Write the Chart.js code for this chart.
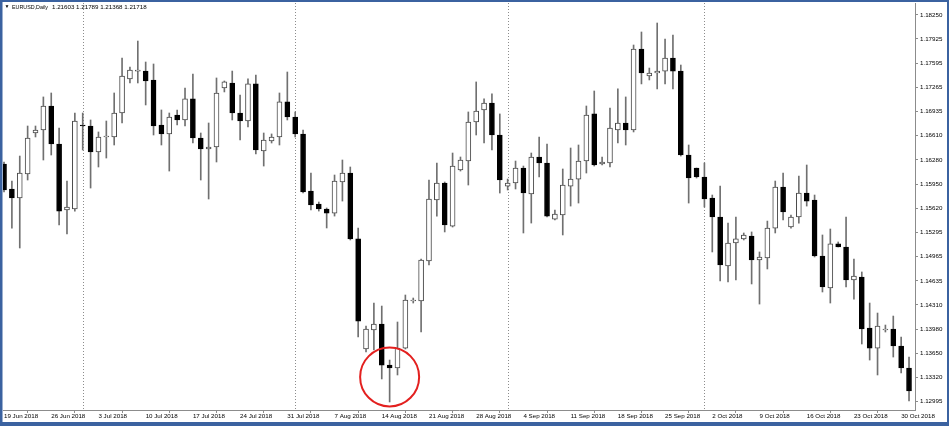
<!DOCTYPE html>
<html>
<head>
<meta charset="utf-8">
<title>EURUSD Daily</title>
<script src="https://cdn.jsdelivr.net/npm/chart.js@4.4.1/dist/chart.umd.min.js"></script>
<style>
  html, body { margin: 0; padding: 0; background: #fff; }
  #wrap { width: 949px; height: 426px; }
</style>
</head>
<body>
<div id="wrap"><canvas id="chart" width="949" height="426"></canvas></div>
<script>
// EURUSD daily, 19 Jun - 31 Oct 2018 (the feed has Sunday bars, 6 bars a week)
const dates = [
  '19 Jun 2018','20 Jun 2018','21 Jun 2018','22 Jun 2018',
  '24 Jun 2018','25 Jun 2018','26 Jun 2018','27 Jun 2018','28 Jun 2018','29 Jun 2018',
  '1 Jul 2018','2 Jul 2018','3 Jul 2018','4 Jul 2018','5 Jul 2018','6 Jul 2018',
  '8 Jul 2018','9 Jul 2018','10 Jul 2018','11 Jul 2018','12 Jul 2018','13 Jul 2018',
  '15 Jul 2018','16 Jul 2018','17 Jul 2018','18 Jul 2018','19 Jul 2018','20 Jul 2018',
  '22 Jul 2018','23 Jul 2018','24 Jul 2018','25 Jul 2018','26 Jul 2018','27 Jul 2018',
  '29 Jul 2018','30 Jul 2018','31 Jul 2018','1 Aug 2018','2 Aug 2018','3 Aug 2018',
  '5 Aug 2018','6 Aug 2018','7 Aug 2018','8 Aug 2018','9 Aug 2018','10 Aug 2018',
  '12 Aug 2018','13 Aug 2018','14 Aug 2018','15 Aug 2018','16 Aug 2018','17 Aug 2018',
  '19 Aug 2018','20 Aug 2018','21 Aug 2018','22 Aug 2018','23 Aug 2018','24 Aug 2018',
  '26 Aug 2018','27 Aug 2018','28 Aug 2018','29 Aug 2018','30 Aug 2018','31 Aug 2018',
  '2 Sep 2018','3 Sep 2018','4 Sep 2018','5 Sep 2018','6 Sep 2018','7 Sep 2018',
  '9 Sep 2018','10 Sep 2018','11 Sep 2018','12 Sep 2018','13 Sep 2018','14 Sep 2018',
  '16 Sep 2018','17 Sep 2018','18 Sep 2018','19 Sep 2018','20 Sep 2018','21 Sep 2018',
  '23 Sep 2018','24 Sep 2018','25 Sep 2018','26 Sep 2018','27 Sep 2018','28 Sep 2018',
  '30 Sep 2018','1 Oct 2018','2 Oct 2018','3 Oct 2018','4 Oct 2018','5 Oct 2018',
  '7 Oct 2018','8 Oct 2018','9 Oct 2018','10 Oct 2018','11 Oct 2018','12 Oct 2018',
  '14 Oct 2018','15 Oct 2018','16 Oct 2018','17 Oct 2018','18 Oct 2018','19 Oct 2018',
  '21 Oct 2018','22 Oct 2018','23 Oct 2018','24 Oct 2018','25 Oct 2018','26 Oct 2018',
  '28 Oct 2018','29 Oct 2018','30 Oct 2018','31 Oct 2018'
];

const opens = [
  1.16225,1.15885,1.15762,1.16089,1.16646,1.16687,1.17013,1.16497,1.15599,1.15613,
  1.16755,1.16741,1.16388,1.16592,1.16592,1.16918,1.17381,1.17488,1.17488,1.17367,
  1.16755,1.16633,1.16891,1.16823,1.17109,1.16578,1.16429,1.16456,1.17258,1.17326,
  1.16918,1.16809,1.17313,1.16401,1.16537,1.16592,1.17068,1.16864,1.16633,1.15858,
  1.15681,1.15613,1.15558,1.15980,1.16102,1.15206,1.13710,1.13968,1.14050,1.13492,
  1.13452,1.13723,1.14362,1.14362,1.14906,1.15735,1.15966,1.15381,1.16143,1.16265,
  1.16796,1.16959,1.17054,1.16619,1.15925,1.15966,1.16170,1.15817,1.16320,1.16238,
  1.15476,1.15531,1.15925,1.16020,1.16265,1.16905,1.16225,1.16238,1.16687,1.16782,
  1.16687,1.17788,1.17421,1.17461,1.17488,1.17665,1.17488,1.16347,1.16170,1.16048,
  1.15762,1.15504,1.14838,1.15151,1.15206,1.15246,1.14920,1.14947,1.15354,1.15912,
  1.15368,1.15504,1.15830,1.15735,1.14974,1.14539,1.15138,1.15097,1.14648,1.14689,
  1.13995,1.13723,1.13968,1.13982,1.13751,1.13452
];

const highs = [
  1.16252,1.15993,1.16333,1.16741,1.16741,1.17136,1.17190,1.16714,1.15993,1.16918,
  1.16918,1.16823,1.16660,1.16809,1.17190,1.17665,1.17543,1.17896,1.17611,1.17584,
  1.16959,1.16918,1.16959,1.17258,1.17448,1.16646,1.16782,1.17394,1.17353,1.17488,
  1.17163,1.17381,1.17434,1.16646,1.16633,1.17190,1.17475,1.16932,1.16687,1.16102,
  1.15708,1.15627,1.16075,1.16279,1.16184,1.15354,1.14023,1.14335,1.14294,1.13560,
  1.14077,1.14444,1.14403,1.14934,1.16007,1.16238,1.15980,1.16374,1.16320,1.16932,
  1.17340,1.17109,1.17177,1.16905,1.16020,1.16265,1.16197,1.16374,1.16592,1.16497,
  1.15599,1.16157,1.16442,1.16483,1.17013,1.17217,1.16320,1.16986,1.17245,1.17136,
  1.17842,1.18019,1.17529,1.18141,1.17923,1.17978,1.17570,1.16483,1.16170,1.16238,
  1.15803,1.15925,1.15422,1.15504,1.15287,1.15301,1.15029,1.15449,1.15993,1.16102,
  1.15531,1.16061,1.16211,1.15803,1.15260,1.15341,1.15165,1.15504,1.14934,1.14757,
  1.14335,1.14199,1.14036,1.14158,1.13873,1.13601
];

const lows = [
  1.15844,1.15354,1.15083,1.16007,1.16592,1.16279,1.16347,1.15395,1.15274,1.15585,
  1.16415,1.15898,1.16184,1.16306,1.16483,1.16782,1.17326,1.17326,1.17027,1.16619,
  1.16483,1.16129,1.16755,1.16741,1.16510,1.16007,1.15749,1.16252,1.17204,1.16823,
  1.16551,1.16728,1.16361,1.16197,1.16510,1.16483,1.16823,1.16592,1.15830,1.15599,
  1.15585,1.15355,1.15517,1.15721,1.15192,1.13873,1.13669,1.13696,1.13303,1.12990,
  1.13357,1.13710,1.14335,1.13941,1.14852,1.15517,1.15301,1.15368,1.16129,1.15939,
  1.16619,1.16510,1.16415,1.15830,1.15871,1.15885,1.15287,1.15422,1.16048,1.15504,
  1.15463,1.15260,1.15653,1.15694,1.16102,1.16197,1.16211,1.16184,1.16510,1.16483,
  1.16660,1.17313,1.17367,1.17245,1.17313,1.17245,1.16333,1.15694,1.16034,1.15640,
  1.15029,1.14634,1.14621,1.14648,1.15192,1.14594,1.14321,1.14798,1.15287,1.15463,
  1.15354,1.15422,1.15653,1.14961,1.14485,1.14335,1.15097,1.14553,1.14389,1.13778,
  1.13560,1.13357,1.13941,1.13601,1.13384,1.13003
];

const closes = [
  1.15871,1.15762,1.16102,1.16578,1.16687,1.17013,1.16497,1.15585,1.15640,1.16809,
  1.16741,1.16388,1.16592,1.16605,1.16918,1.17421,1.17502,1.17502,1.17353,1.16741,
  1.16633,1.16864,1.16823,1.17109,1.16578,1.16429,1.16456,1.17190,1.17340,1.16918,
  1.16809,1.17313,1.16415,1.16551,1.16592,1.17068,1.16864,1.16633,1.15844,1.15667,
  1.15613,1.15558,1.15993,1.16102,1.15206,1.14090,1.13982,1.14050,1.13492,1.13452,
  1.13723,1.14376,1.14376,1.14920,1.15749,1.15966,1.15395,1.16197,1.16279,1.16796,
  1.16945,1.17054,1.16619,1.16007,1.15966,1.16170,1.15830,1.16320,1.16238,1.15517,
  1.15545,1.15939,1.16020,1.16265,1.16891,1.16211,1.16252,1.16714,1.16782,1.16687,
  1.17788,1.17461,1.17461,1.17488,1.17665,1.17488,1.16347,1.16034,1.16048,1.15749,
  1.15504,1.14852,1.15151,1.15206,1.15260,1.14920,1.14961,1.15354,1.15912,1.15572,
  1.15504,1.15830,1.15721,1.14974,1.14553,1.15138,1.15097,1.14648,1.14702,1.13982,
  1.13723,1.14023,1.13982,1.13751,1.13452,1.13139
];

// labels shown on the time axis
const tickDates = [
  '19 Jun 2018','26 Jun 2018','3 Jul 2018','10 Jul 2018','17 Jul 2018','24 Jul 2018',
  '31 Jul 2018','7 Aug 2018','14 Aug 2018','21 Aug 2018','28 Aug 2018','4 Sep 2018',
  '11 Sep 2018','18 Sep 2018','25 Sep 2018','2 Oct 2018','9 Oct 2018','16 Oct 2018',
  '23 Oct 2018','30 Oct 2018'
];

// price scale labels (terminal style, uneven steps)
const priceTicks = [
  1.18250, 1.17925, 1.17595, 1.17265, 1.16935, 1.16610, 1.16280, 1.15950, 1.15620,
  1.15295, 1.14965, 1.14635, 1.14310, 1.13980, 1.13650, 1.13320, 1.12995
];

// first bar of each month -> dotted period separators
const monthStarts = ['1 Jul 2018', '1 Aug 2018', '2 Sep 2018', '1 Oct 2018'];

const symbolName = 'EURUSD,Daily';
const lastQuote = '1.21603 1.21789 1.21368 1.21718';
// the 15 Aug low that is circled
const circledDate = '15 Aug 2018';
const circledPrice = 1.13330;

const FONT = '"Liberation Sans", "DejaVu Sans", Arial, sans-serif';

const bodyData = dates.map((d, i) => ({ x: i, y: [opens[i], closes[i]] }));
const wickData = dates.map((d, i) => ({ x: i, y: [lows[i], highs[i]] }));
const isUp = dates.map((d, i) => closes[i] >= opens[i]);

// separators, header text, circle mark and the window frame
const overlay = {
  id: 'overlay',
  beforeDraw(chart) {
    const c = chart.ctx;
    c.save();
    c.fillStyle = '#ffffff';
    c.fillRect(0, 0, chart.width, chart.height);
    c.restore();
  },
  beforeDatasetsDraw(chart) {
    const c = chart.ctx;
    const area = chart.chartArea;
    const xs = chart.scales.x;
    c.save();
    c.strokeStyle = '#8c8c8c';
    c.lineWidth = 1;
    c.setLineDash([1, 2]);
    monthStarts.forEach(d => {
      const px = Math.round(xs.getPixelForValue(dates.indexOf(d))) + 0.5;
      c.beginPath();
      c.moveTo(px, area.top);
      c.lineTo(px, area.bottom);
      c.stroke();
    });
    c.restore();
  },
  afterDraw(chart) {
    const c = chart.ctx;
    const xs = chart.scales.x;
    const ys = chart.scales.y;
    c.save();

    // header
    c.fillStyle = '#000';
    c.textBaseline = 'middle';
    c.font = '5px ' + FONT;
    c.fillText('\u25BC', 4.5, 7);
    c.font = '6.2px ' + FONT;
    c.fillText(symbolName, 12, 7, 36);
    c.fillText(lastQuote, 52, 7, 96);

    // red circle round the low
    c.strokeStyle = '#e3201f';
    c.lineWidth = 2;
    c.beginPath();
    c.arc(xs.getPixelForValue(dates.indexOf(circledDate)), ys.getPixelForValue(circledPrice), 29.5, 0, Math.PI * 2);
    c.stroke();

    // window frame
    c.fillStyle = '#3b62a0';
    c.fillRect(0, 0, chart.width, 2);
    c.fillRect(0, 0, 2.5, chart.height);
    c.fillRect(chart.width - 2, 0, 2, chart.height);
    c.fillRect(0, chart.height - 4, chart.width, 4);
    c.restore();
  }
};

const ctx = document.getElementById('chart').getContext('2d');

const priceChart = new Chart(ctx, {
  type: 'bar',
  data: {
    datasets: [
      {
        label: 'body',
        data: bodyData,
        order: 0,
        grouped: false,
        barThickness: 5,
        minBarLength: 1,
        backgroundColor: isUp.map(u => u ? '#ffffff' : '#000000'),
        borderColor: isUp.map(u => u ? '#4a4a4a' : '#000000'),
        borderWidth: 1,
        borderSkipped: false
      },
      {
        label: 'wick',
        data: wickData,
        order: 1,
        grouped: false,
        barThickness: 1,
        backgroundColor: '#707070',
        borderWidth: 0
      }
    ]
  },
  options: {
    responsive: false,
    animation: false,
    events: [],
    layout: { padding: { left: 3, top: 3, right: 0, bottom: 0 } },
    plugins: {
      legend: { display: false },
      tooltip: { enabled: false }
    },
    scales: {
      x: {
        type: 'linear',
        min: -0.13,
        max: 115.76,
        offset: false,
        afterBuildTicks: s => { s.ticks = tickDates.map(d => ({ value: dates.indexOf(d) })); },
        afterFit: s => {
          s.height = 16;
          s.paddingLeft = 0; s.paddingRight = 0;
        },
        ticks: {
          callback: v => dates[v],
          align: 'start',
          maxRotation: 0,
          autoSkip: false,
          padding: 0,
          color: '#000',
          font: { family: FONT, size: 6.2 }
        },
        grid: { drawOnChartArea: false, tickLength: 3, color: '#8c8c8c' },
        border: { color: '#8c8c8c' }
      },
      y: {
        position: 'right',
        min: 1.12881,
        max: 1.18413,
        afterBuildTicks: s => { s.ticks = priceTicks.map(v => ({ value: v })); },
        afterFit: s => {
          s.width = 34;
          s.paddingTop = 0; s.paddingBottom = 0;
        },
        ticks: {
          callback: v => v.toFixed(5),
          padding: 2,
          color: '#000',
          font: { family: FONT, size: 6.2 }
        },
        grid: { drawOnChartArea: false, tickLength: 3, color: '#8c8c8c' },
        border: { color: '#8c8c8c' }
      }
    }
  },
  plugins: [overlay]
});
</script>
</body>
</html>
